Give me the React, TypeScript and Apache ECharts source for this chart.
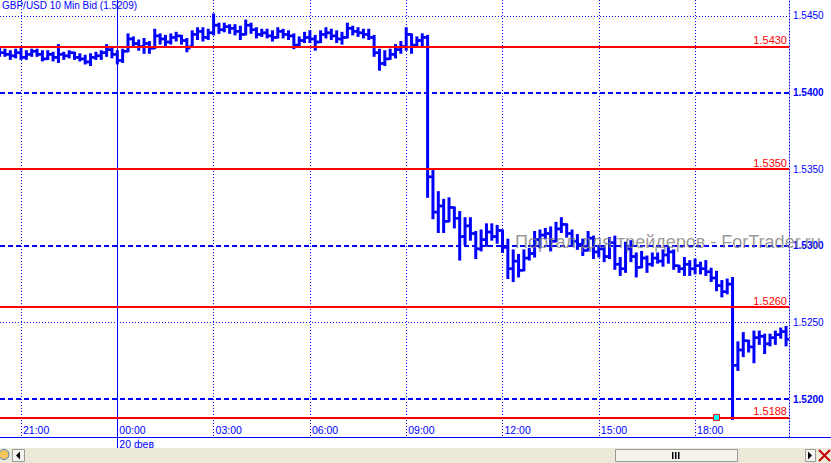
import React, { useEffect, useRef } from "react";
import * as echarts from "echarts";

// 10-minute bars, 19 Feb 20:20 -> 20 Feb 20:50 (index = bar number)
const opens = [
  1.5427, 1.5426, 1.5425, 1.5424, 1.5426, 1.5423, 1.5425, 1.5427, 1.5425, 1.5422,
  1.5425, 1.5423, 1.5425, 1.5424, 1.5426, 1.5423, 1.5422, 1.542, 1.5423, 1.5424,
  1.5426, 1.5428, 1.5425, 1.5421, 1.5427, 1.5435, 1.5432, 1.543, 1.5432, 1.5429,
  1.5437, 1.5435, 1.5433, 1.5436, 1.5437, 1.5434, 1.543, 1.5438, 1.544, 1.5436,
  1.5439, 1.5444, 1.5441, 1.5443, 1.5442, 1.544, 1.5438, 1.5444, 1.5441, 1.5438,
  1.5439, 1.5437, 1.5436, 1.544, 1.5438, 1.5437, 1.5431, 1.5434, 1.5436, 1.5435,
  1.5433, 1.5438, 1.5439, 1.5437, 1.5435, 1.5436, 1.5442, 1.544, 1.5439, 1.5438,
  1.5436, 1.5426, 1.5419, 1.5422, 1.5425, 1.5428, 1.543, 1.5438, 1.5431, 1.5434,
  1.5436, 1.5345, 1.5322, 1.5326, 1.5316, 1.5325, 1.5318, 1.5306, 1.5313, 1.5308,
  1.5298, 1.5304, 1.5309, 1.5306, 1.531, 1.5299, 1.5285, 1.529, 1.5284, 1.5292,
  1.5295, 1.5304, 1.5307, 1.5308, 1.5303, 1.5311, 1.5314, 1.5308, 1.5303, 1.5301,
  1.5297, 1.5305, 1.5296, 1.5298, 1.5293, 1.5302, 1.5288, 1.5285, 1.5298, 1.5293,
  1.5286, 1.5292, 1.5288, 1.5292, 1.529, 1.5294, 1.5296, 1.5287, 1.5285, 1.5288,
  1.5285, 1.5287, 1.5285, 1.5283, 1.5279, 1.5274, 1.527, 1.5275, 1.5222, 1.5232,
  1.5238, 1.5234, 1.524, 1.5241, 1.5236, 1.524, 1.5242, 1.5244,
];
const highs = [
  1.5429, 1.5428, 1.5427, 1.5428, 1.5429, 1.5427, 1.5428, 1.5428, 1.5427, 1.5427,
  1.5426, 1.5431, 1.5426, 1.5427, 1.5426, 1.5425, 1.5424, 1.5425, 1.5426, 1.5427,
  1.5431, 1.5429, 1.5427, 1.5428, 1.5438, 1.5436, 1.5434, 1.5435, 1.5433, 1.5441,
  1.5438, 1.5437, 1.5438, 1.5439, 1.5437, 1.5435, 1.544, 1.5442, 1.5442, 1.5441,
  1.5451, 1.5445, 1.5445, 1.5444, 1.5444, 1.5443, 1.5447, 1.5445, 1.5442, 1.5441,
  1.5441, 1.544, 1.5442, 1.5441, 1.544, 1.5438, 1.5436, 1.5439, 1.544, 1.5437,
  1.544, 1.5442, 1.5441, 1.544, 1.5439, 1.5445, 1.5443, 1.5442, 1.5441, 1.5441,
  1.5437, 1.5428, 1.5427, 1.5428, 1.5431, 1.5433, 1.5442, 1.5438, 1.5436, 1.5438,
  1.5437, 1.535, 1.5335, 1.533, 1.5331, 1.5325, 1.5322, 1.5318, 1.5318, 1.5309,
  1.531, 1.5314, 1.5314, 1.5313, 1.531, 1.5304, 1.5297, 1.5294, 1.5297, 1.5298,
  1.5309, 1.531, 1.5311, 1.5312, 1.5315, 1.5318, 1.5314, 1.531, 1.5307, 1.5304,
  1.5309, 1.5306, 1.53, 1.5299, 1.5305, 1.5306, 1.5292, 1.5302, 1.5303, 1.5295,
  1.5296, 1.5293, 1.5295, 1.5295, 1.5297, 1.5299, 1.5297, 1.5287, 1.5292, 1.529,
  1.5291, 1.5289, 1.529, 1.5285, 1.5283, 1.5277, 1.5278, 1.5279, 1.5237, 1.5243,
  1.5238, 1.5244, 1.5244, 1.5242, 1.5242, 1.5244, 1.5246, 1.5247,
];
const lows = [
  1.5424, 1.5424, 1.5422, 1.5423, 1.5422, 1.5422, 1.5424, 1.5424, 1.5421, 1.5422,
  1.5421, 1.542, 1.5422, 1.5423, 1.5422, 1.5421, 1.5419, 1.5418, 1.5422, 1.5422,
  1.5424, 1.5423, 1.5419, 1.542, 1.5427, 1.543, 1.5428, 1.5426, 1.5426, 1.5429,
  1.5432, 1.5431, 1.5432, 1.5434, 1.5432, 1.5427, 1.543, 1.5435, 1.5434, 1.5435,
  1.5438, 1.5439, 1.544, 1.5439, 1.5438, 1.5435, 1.5438, 1.5439, 1.5436, 1.5437,
  1.5436, 1.5434, 1.5436, 1.5436, 1.5435, 1.5429, 1.5431, 1.5433, 1.5433, 1.5428,
  1.5433, 1.5436, 1.5435, 1.5433, 1.5432, 1.5436, 1.5438, 1.5437, 1.5436, 1.5435,
  1.5424, 1.5415, 1.5418, 1.5422, 1.5423, 1.5426, 1.5428, 1.5426, 1.543, 1.543,
  1.5332, 1.5318, 1.5309, 1.5309, 1.5316, 1.5312, 1.5291, 1.5301, 1.5304, 1.5292,
  1.5297, 1.53, 1.5304, 1.5302, 1.5296, 1.5279, 1.5277, 1.528, 1.5284, 1.5291,
  1.5293, 1.5299, 1.5305, 1.5297, 1.5303, 1.5309, 1.5306, 1.53, 1.5298, 1.5294,
  1.5297, 1.5292, 1.5293, 1.529, 1.5292, 1.5285, 1.5281, 1.5283, 1.529, 1.528,
  1.5286, 1.5283, 1.5287, 1.5289, 1.5287, 1.5289, 1.5285, 1.5283, 1.5281, 1.5281,
  1.5282, 1.5282, 1.5281, 1.5277, 1.5271, 1.5267, 1.5269, 1.5187, 1.5219, 1.5228,
  1.5231, 1.5224, 1.5236, 1.523, 1.5235, 1.5236, 1.524, 1.5235,
];
const closes = [
  1.5426, 1.5425, 1.5424, 1.5426, 1.5423, 1.5425, 1.5427, 1.5425, 1.5422, 1.5425,
  1.5423, 1.5425, 1.5424, 1.5426, 1.5423, 1.5422, 1.542, 1.5423, 1.5424, 1.5426,
  1.5428, 1.5425, 1.5421, 1.5427, 1.5435, 1.5432, 1.543, 1.5432, 1.5429, 1.5437,
  1.5435, 1.5433, 1.5436, 1.5437, 1.5434, 1.5429, 1.5438, 1.544, 1.5436, 1.5439,
  1.5444, 1.5441, 1.5443, 1.5442, 1.544, 1.5438, 1.5444, 1.5441, 1.5438, 1.5439,
  1.5437, 1.5436, 1.544, 1.5438, 1.5437, 1.5431, 1.5434, 1.5436, 1.5435, 1.5433,
  1.5438, 1.5439, 1.5437, 1.5435, 1.5436, 1.5442, 1.544, 1.5439, 1.5438, 1.5436,
  1.5426, 1.5419, 1.5422, 1.5425, 1.5428, 1.543, 1.5438, 1.5431, 1.5434, 1.5436,
  1.5345, 1.5322, 1.5326, 1.5316, 1.5325, 1.5318, 1.5306, 1.5313, 1.5308, 1.5298,
  1.5304, 1.5309, 1.5306, 1.531, 1.5299, 1.5285, 1.529, 1.5284, 1.5292, 1.5295,
  1.5304, 1.5307, 1.5308, 1.5303, 1.5311, 1.5314, 1.5308, 1.5303, 1.5301, 1.5297,
  1.5305, 1.5296, 1.5298, 1.5293, 1.5302, 1.5288, 1.5285, 1.5298, 1.5293, 1.5286,
  1.5292, 1.5288, 1.5292, 1.529, 1.5294, 1.5296, 1.5287, 1.5285, 1.5288, 1.5285,
  1.5287, 1.5285, 1.5283, 1.5279, 1.5274, 1.527, 1.5275, 1.5222, 1.5232, 1.5238,
  1.5234, 1.524, 1.5241, 1.5236, 1.524, 1.5242, 1.5244, 1.5239,
];

// time axis ticks (bar index -> label)
const timeTickIdx = [4, 22, 40, 58, 76, 94, 112, 130];
const timeTickLabels = ["21:00", "00:00", "03:00", "06:00", "09:00", "12:00", "15:00", "18:00"];
const dottedTimeIdx = [4, 40, 58, 76, 94, 112, 130];
const dayBreakIdx = [22];
const dayBreakLabel = "20 фев";

// price axis ticks
const minorPrices = [1.545, 1.535, 1.525];
const majorPrices = [1.54, 1.53, 1.52];

// horizontal level lines
const levels = [1.543, 1.535, 1.526, 1.5188];

// alert marker
const alertPoints = [[134, 1.5188]];

const TITLE = "GBP/USD 10 Min Bid (1.5209)";
const WATERMARK = "Портал для трейдеров - ForTrader.ru";

const X_MIN = 0.075;
const X_MAX = 147.55;
const Y_MIN = 1.51752;
const Y_MAX = 1.546044;

export default function App() {
  const ref = useRef<HTMLDivElement>(null);
  useEffect(() => {
    const chart = echarts.init(ref.current!, null, { renderer: "svg" });
    const blue = "#0000FF";
    const red = "#FF0000";
    const font = "'Liberation Sans', Arial, sans-serif";
    const data = opens.map((o, i) => [i, o, highs[i], lows[i], closes[i]]);

    chart.setOption({
      animation: false,
      backgroundColor: "#FFFFFF",
      textStyle: { fontFamily: font },
      title: {
        text: TITLE,
        left: 2,
        top: 0,
        padding: 0,
        textStyle: { fontSize: 10, fontWeight: "normal", color: blue, fontFamily: font },
      },
      grid: { left: 0, top: 0, width: 789, height: 437, containLabel: false },
      xAxis: [
        {
          type: "value",
          min: X_MIN,
          max: X_MAX,
          position: "bottom",
          axisLine: { show: false },
          axisTick: { show: false, customValues: dottedTimeIdx },
          splitLine: { show: true, lineStyle: { color: blue, type: [1, 2], width: 1 } },
          axisLabel: {
            inside: true,
            customValues: timeTickIdx,
            formatter: (v: number) => timeTickLabels[timeTickIdx.indexOf(Math.round(v))] ?? "",
            color: blue,
            fontSize: 10.5,
            fontFamily: font,
            align: "left",
            margin: 2,
            padding: [0, 0, 0, 2],
          },
        },
        {
          type: "value",
          min: X_MIN,
          max: X_MAX,
          position: "bottom",
          offset: 0,
          axisLine: { show: false },
          axisTick: {
            show: true,
            customValues: dayBreakIdx,
            length: 11,
            inside: false,
            lineStyle: { color: blue, width: 1 },
          },
          splitLine: { show: true, lineStyle: { color: blue, type: "solid", width: 1 } },
          axisLabel: {
            customValues: dayBreakIdx,
            formatter: () => dayBreakLabel,
            color: blue,
            fontSize: 10.5,
            fontFamily: font,
            align: "left",
            margin: 1,
            padding: [0, 0, 0, 2],
          },
        },
      ],
      yAxis: [
        {
          type: "value",
          position: "right",
          min: Y_MIN,
          max: Y_MAX,
          axisLine: { show: true, lineStyle: { color: blue, type: [1, 2], width: 1 } },
          axisTick: { show: false, customValues: minorPrices },
          splitLine: { show: true, lineStyle: { color: blue, type: [1, 2], width: 1 } },
          axisLabel: {
            customValues: minorPrices,
            formatter: (v: number) => v.toFixed(4),
            color: blue,
            fontSize: 10,
            fontFamily: font,
            margin: 4,
          },
        },
        {
          type: "value",
          position: "right",
          min: Y_MIN,
          max: Y_MAX,
          axisLine: { show: false },
          axisTick: { show: false, customValues: majorPrices },
          splitLine: { show: true, lineStyle: { color: blue, type: [5, 3], width: 2 } },
          axisLabel: {
            customValues: majorPrices,
            formatter: (v: number) => v.toFixed(4),
            color: blue,
            fontSize: 10,
            fontWeight: "bold",
            fontFamily: font,
            margin: 4,
          },
        },
      ],
      series: [
        {
          type: "custom",
          xAxisIndex: 0,
          yAxisIndex: 0,
          clip: true,
          data,
          encode: { x: 0, y: [1, 2, 3, 4] },
          renderItem: (_params: any, api: any) => {
            const x = api.value(0);
            const o = api.coord([x, api.value(1)]);
            const h = api.coord([x, api.value(2)]);
            const l = api.coord([x, api.value(3)]);
            const c = api.coord([x, api.value(4)]);
            const st = { stroke: blue, lineWidth: 3 };
            const tw = { stroke: blue, lineWidth: 2.5 };
            return {
              type: "group",
              children: [
                { type: "line", shape: { x1: h[0], y1: h[1] - 1, x2: l[0], y2: l[1] + 1 }, style: st },
                { type: "line", shape: { x1: o[0] - 3.6, y1: o[1], x2: o[0], y2: o[1] }, style: tw },
                { type: "line", shape: { x1: c[0], y1: c[1], x2: c[0] + 3.6, y2: c[1] }, style: tw },
              ],
            };
          },
          markLine: {
            silent: true,
            precision: 4,
            symbol: ["none", "none"],
            lineStyle: { color: red, width: 2, type: "solid" },
            label: {
              position: "insideEndTop",
              formatter: (p: any) => Number(p.value).toFixed(4),
              color: red,
              fontSize: 11,
              fontFamily: font,
              distance: [2, 1],
            },
            data: levels.map((v) => ({ yAxis: v })),
          },
          z: 3,
        },
        {
          type: "scatter",
          xAxisIndex: 0,
          yAxisIndex: 0,
          data: alertPoints,
          symbol: "rect",
          symbolSize: 6,
          itemStyle: { color: "#00FFFF", borderColor: red, borderWidth: 1, opacity: 1 },
          z: 6,
        },
      ],
      graphic: [
        {
          type: "text",
          z: 100,
          x: 515,
          y: 242,
          style: {
            text: WATERMARK,
            fill: "rgba(125,125,125,0.78)",
            font: "18px 'Liberation Sans', Arial, sans-serif",
            verticalAlign: "middle",
          },
        },
        { type: "line", z: 50, shape: { x1: 0, y1: 437.5, x2: 831, y2: 437.5 }, style: { stroke: blue, lineWidth: 1 } },
        { type: "rect", z: 50, shape: { x: 0, y: 448, width: 831, height: 15 }, style: { fill: "#ECE9D8" } },
        { type: "circle", z: 51, shape: { cx: 4, cy: 454.5, r: 5 }, style: { fill: "#F2C45A", stroke: "#4A7CC0", lineWidth: 1 } },
        { type: "rect", z: 51, shape: { x: 12.5, y: 449.5, width: 12, height: 12 }, style: { fill: "#F4F3EE", stroke: "#9A9A9A", lineWidth: 1 } },
        { type: "polygon", z: 52, shape: { points: [[16, 455.5], [20, 451.5], [20, 459.5]] }, style: { fill: "#000" } },
        { type: "rect", z: 51, shape: { x: 615.5, y: 449.5, width: 122, height: 12 }, style: { fill: "#F4F3EE", stroke: "#9A9A9A", lineWidth: 1 } },
        { type: "rect", z: 52, shape: { x: 672, y: 452, width: 1.5, height: 7 }, style: { fill: "#000" } },
        { type: "rect", z: 52, shape: { x: 675, y: 452, width: 1.5, height: 7 }, style: { fill: "#000" } },
        { type: "rect", z: 52, shape: { x: 678, y: 452, width: 1.5, height: 7 }, style: { fill: "#000" } },
        { type: "rect", z: 51, shape: { x: 805.5, y: 449.5, width: 10, height: 12 }, style: { fill: "#F4F3EE", stroke: "#9A9A9A", lineWidth: 1 } },
        { type: "polygon", z: 52, shape: { points: [[812, 455.5], [808, 451.5], [808, 459.5]] }, style: { fill: "#000" } },
        { type: "line", z: 52, shape: { x1: 819, y1: 450, x2: 830, y2: 461 }, style: { stroke: "#C00000", lineWidth: 2 } },
        { type: "line", z: 52, shape: { x1: 830, y1: 450, x2: 819, y2: 461 }, style: { stroke: "#C00000", lineWidth: 2 } },
      ],
    });
    return () => chart.dispose();
  }, []);

  return (
    <div
      ref={ref}
      style={{ position: "fixed", left: 0, top: 0, width: 831, height: 463, background: "#fff" }}
    />
  );
}
